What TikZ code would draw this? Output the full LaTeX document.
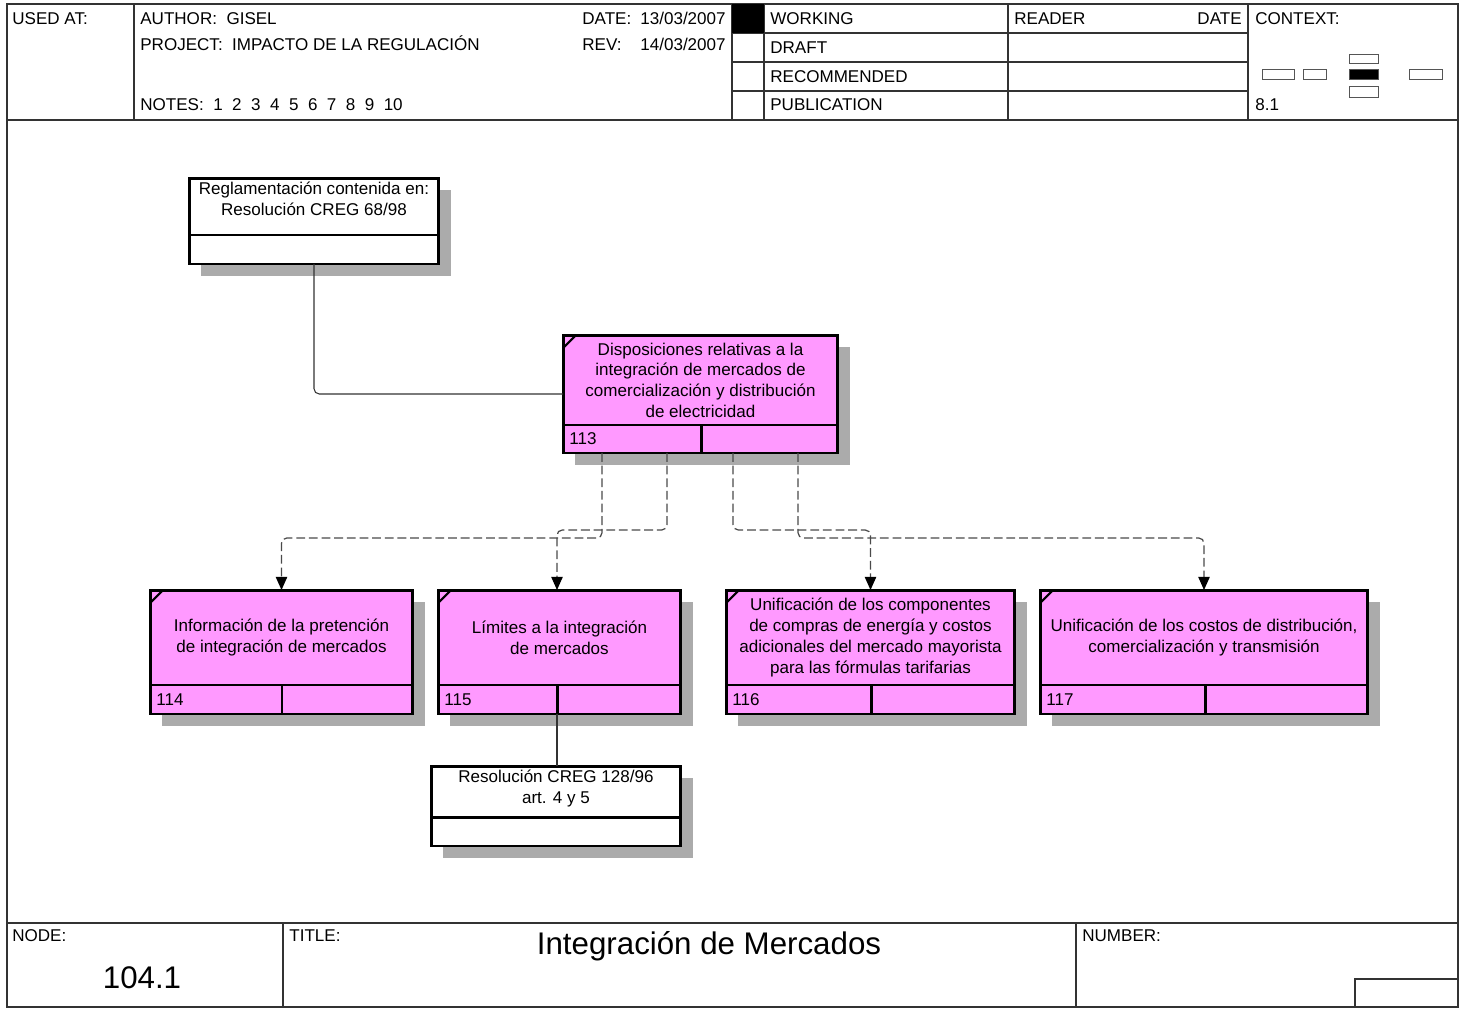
\documentclass[tikz,border=0pt]{standalone}
\usepackage{fontspec}
\setmainfont{Liberation Sans}
\usetikzlibrary{arrows.meta, positioning, calc, shadows}
\definecolor{actpink}{HTML}{FF99FF}
\definecolor{shadowgray}{HTML}{ABABAB}
\definecolor{flowgray}{HTML}{4A4A4A}
\definecolor{framecolor}{HTML}{333333}
\definecolor{ctxcolor}{HTML}{555555}

\begin{document}
\begin{tikzpicture}[
    x=0.02cm, y=-0.02cm,
    every node/.style={font=\fontsize{9.7}{11.8}\selectfont},
    hd/.style={anchor=base west, inner sep=0pt},
    big/.style={font=\fontsize{17.8}{20}\selectfont, anchor=base, inner sep=0pt},
    frame/.style={draw=framecolor, line width=0.8pt},
    ctx/.style={draw=ctxcolor, line width=0.5pt, fill=white},
    actbox/.style={rectangle, draw=black, fill=actpink, line width=1.7pt,
                   outer sep=0pt, inner sep=2pt, align=center,
                   drop shadow={shadow xshift=0.24cm, shadow yshift=-0.24cm,
                                fill=shadowgray, opacity=1}},
    actcell/.style={actbox, minimum height=0.58cm, anchor=north west},
    refbox/.style={actbox, fill=white},
    refcell/.style={refbox, minimum height=0.58cm, anchor=north west},
    num/.style={anchor=west, inner sep=0pt},
    tick/.style={line width=1.2pt},
    call/.style={draw=flowgray, line width=0.7pt, dash pattern=on 5pt off 2.2pt,
                 rounded corners=3pt,
                 -{Triangle[length=7.5pt, width=6.5pt, color=black]}},
    link/.style={draw=black!80, line width=0.6pt, rounded corners=3pt},
]
\useasboundingbox (0,0) rectangle (1463,1011);

% ---------------- frame
\draw[frame, line width=1pt] (7,4) rectangle (1458,1007);
\draw[frame] (7,120) -- (1458,120);
\draw[frame] (134,4) -- (134,120);
\draw[frame] (732,4) -- (732,120);
\draw[frame] (764,4) -- (764,120);
\draw[frame] (1008,4) -- (1008,120);
\draw[frame] (1248,4) -- (1248,120);
\foreach \yy in {33,62,91}{
    \draw[frame] (732,\yy) -- (1248,\yy);
}
\fill[black] (732,4) rectangle (764,33);
\draw[frame] (7,923) -- (1458,923);
\draw[frame] (283,923) -- (283,1007);
\draw[frame] (1076,923) -- (1076,1007);
\draw[frame] (1355,1007) |- (1458,979);

% ---------------- header
\node[hd] (usedat) at (12,24) {USED AT:};
\node[hd] (author) at (140,24) {AUTHOR:\ \ GISEL};
\node[hd] (project) at (140,50) {PROJECT:\ \ IMPACTO DE LA REGULACIÓN};
\node[hd] (notes) at (140,110) {NOTES:\ \ 1\ \ 2\ \ 3\ \ 4\ \ 5\ \ 6\ \ 7\ \ 8\ \ 9\ \ 10};
\node[hd] (date) at (582,24) {DATE:};
\node[hd] (dateval) at (640,24) {13/03/2007};
\node[hd] (rev) at (582,50) {REV:};
\node[hd] (revval) at (640,50) {14/03/2007};
\node[hd] (working) at (770,24) {WORKING};
\node[hd] (draft) at (770,53) {DRAFT};
\node[hd] (recommended) at (770,82) {RECOMMENDED};
\node[hd] (publication) at (770,110) {PUBLICATION};
\node[hd] (reader) at (1014,24) {READER};
\node[hd, anchor=base east] (readerdate) at (1242,24) {DATE};
\node[hd] (context) at (1255,24) {CONTEXT:};
\node[hd] (ctxnum) at (1255,110) {8.1};
\draw[ctx] (1262,69) rectangle (1294,79);
\draw[ctx] (1303,69) rectangle (1326,79);
\draw[ctx] (1349,54) rectangle (1378,63);
\draw[ctx, fill=black] (1349,69) rectangle (1378,79);
\draw[ctx] (1349,86) rectangle (1378,97);
\draw[ctx] (1409,69) rectangle (1442,79);

% ---------------- footer
\node[hd] (nodelab) at (12,941) {NODE:};
\node[big] (nodenum) at (142,988) {104.1};
\node[hd] (titlelab) at (289,941) {TITLE:};
\node[big] (title) at (709,954) {Integración de Mercados};
\node[hd] (numberlab) at (1082,941) {NUMBER:};

% ---------------- reference boxes
\node[refbox, minimum width=5cm, minimum height=1.14cm] (r1) at (314,206.5) {};
\node[refcell, minimum width=5cm] (r1b) at (r1.south west) {};
\node[anchor=north, align=center, inner sep=2pt] (r1t) at (r1.north)
    {Reglamentación contenida en:\\Resolución CREG 68/98};

\node[refbox, minimum width=5cm, minimum height=1.02cm] (r2) at (556,791.5) {};
\node[refcell, minimum width=5cm] (r2b) at (r2.south west) {};
\node[anchor=north, align=center, inner sep=2pt] (r2t) at (r2.north)
    {Resolución CREG 128/96\\art. 4 y 5};

% ---------------- activity 113
\node[actbox, minimum width=5.5cm, minimum height=1.8cm] (a113) at (700.5,380)
    {Disposiciones relativas a la\\integración de mercados de\\comercialización y distribución\\de electricidad};
\node[actcell, minimum width=2.76cm, minimum height=0.56cm] (a113n) at (a113.south west) {};
\node[actcell, minimum width=2.74cm, minimum height=0.56cm] (a113r) at (a113n.north east) {};
\node[num] (n113) at ($(a113n.west)+(6,0)$) {113};
\draw[tick] ($(a113.north west)+(0,13)$) -- ++(13,-13);

% ---------------- activities 114 to 117
\node[actbox, minimum width=5.26cm, minimum height=1.9cm] (a114) at (281.5,637.5)
    {Información de la pretención\\de integración de mercados};
\node[actcell, minimum width=2.64cm] (a114n) at (a114.south west) {};
\node[actcell, minimum width=2.62cm] (a114r) at (a114n.north east) {};
\node[num] (n114) at ($(a114n.west)+(6,0)$) {114};
\draw[tick] ($(a114.north west)+(0,13)$) -- ++(13,-13);

\node[actbox, minimum width=4.86cm, minimum height=1.9cm] (a115) at (559.5,637.5)
    {Límites a la integración\\de mercados};
\node[actcell, minimum width=2.38cm] (a115n) at (a115.south west) {};
\node[actcell, minimum width=2.48cm] (a115r) at (a115n.north east) {};
\node[num] (n115) at ($(a115n.west)+(6,0)$) {115};
\draw[tick] ($(a115.north west)+(0,13)$) -- ++(13,-13);

\node[actbox, minimum width=5.78cm, minimum height=1.9cm] (a116) at (870.5,637.5)
    {Unificación de los componentes\\de compras de energía y costos\\adicionales del mercado mayorista\\para las fórmulas tarifarias};
\node[actcell, minimum width=2.9cm] (a116n) at (a116.south west) {};
\node[actcell, minimum width=2.88cm] (a116r) at (a116n.north east) {};
\node[num] (n116) at ($(a116n.west)+(6,0)$) {116};
\draw[tick] ($(a116.north west)+(0,13)$) -- ++(13,-13);

\node[actbox, minimum width=6.56cm, minimum height=1.9cm] (a117) at (1204,637.5)
    {Unificación de los costos de distribución,\\comercialización y transmisión};
\node[actcell, minimum width=3.3cm] (a117n) at (a117.south west) {};
\node[actcell, minimum width=3.26cm] (a117r) at (a117n.north east) {};
\node[num] (n117) at ($(a117n.west)+(6,0)$) {117};
\draw[tick] ($(a117.north west)+(0,13)$) -- ++(13,-13);

% ---------------- connectors
\coordinate (o1) at ($(a113n.south west)+(39,0)$);
\coordinate (o2) at ($(a113n.south west)+(104,0)$);
\coordinate (o3) at ($(a113r.south west)+(32,0)$);
\coordinate (o4) at ($(a113r.south west)+(97,0)$);
\coordinate (e2) at ($(a115.north)+(-2.5,0)$);
\draw[call] (o1) -- ++(0,85) -| (a114.north);
\draw[call] (o2) -- ++(0,77) -| (e2);
\draw[call] (o3) -- ++(0,77) -| (a116.north);
\draw[call] (o4) -- ++(0,85) -| (a117.north);

\draw[link] (r1b.south) |- ($(a113.west)+(0,14)$);
\draw[link] (a115n.south east) -- (a115n.south east |- r2.north);
\end{tikzpicture}
\end{document}
